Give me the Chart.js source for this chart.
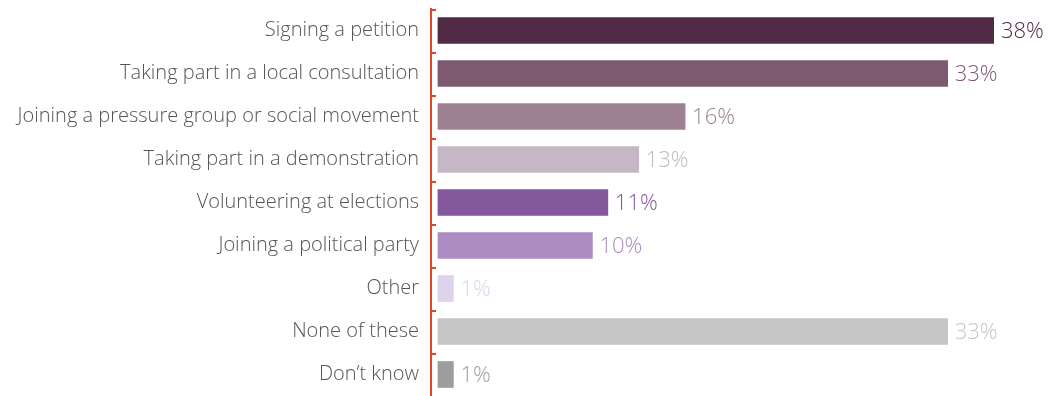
<!DOCTYPE html>
<html>
<head>
<meta charset="utf-8">
<script src="https://cdn.jsdelivr.net/npm/chart.js@4/dist/chart.umd.min.js"></script>
<style>
  html, body { margin: 0; padding: 0; background: #fff; }
  #wrap { width: 1048px; height: 396px; }
</style>
</head>
<body>
<div id="wrap"><canvas id="barChart"></canvas></div>
<script>
var categories = [
  "Signing a petition",
  "Taking part in a local consultation",
  "Joining a pressure group or social movement",
  "Taking part in a demonstration",
  "Volunteering at elections",
  "Joining a political party",
  "Other",
  "None of these",
  "Don\u2019t know"
];
var values = [38, 33, 16, 13, 11, 10, 1, 33, 1];
var barColors = [
  "#512a46", "#7e5a70", "#9e8293", "#c5b7c6", "#84589c",
  "#ac8cc1", "#ddd3ea", "#c6c6c6", "#9d9d9c"
];
var axisColor = "#e0482a";

// value labels drawn next to each bar, in the bar colour
var valueLabels = {
  id: "valueLabels",
  afterDatasetsDraw: function (chart) {
    var ctx = chart.ctx;
    var meta = chart.getDatasetMeta(0);
    var area = chart.chartArea;
    ctx.save();
    ctx.font = "300 22px 'Open Sans'";
    ctx.textBaseline = "middle";
    ctx.textAlign = "left";
    meta.data.forEach(function (bar, i) {
      ctx.fillStyle = barColors[i];
      var x = Math.min(bar.x, area.right) + 7;
      ctx.fillText(values[i] + "%", x, bar.y + 1);
    });
    ctx.restore();
  }
};

// small tick marks on the inner side of the y axis, at category boundaries
var innerTicks = {
  id: "innerTicks",
  afterDraw: function (chart) {
    var y = chart.scales.y;
    var ctx = chart.ctx;
    var step = (y.bottom - y.top) / categories.length;
    ctx.save();
    ctx.strokeStyle = axisColor;
    ctx.lineWidth = 2;
    for (var i = 0; i < categories.length; i++) {
      var py = Math.round(y.top + i * step) + 1;
      ctx.beginPath();
      ctx.moveTo(y.right, py);
      ctx.lineTo(y.right + 5, py);
      ctx.stroke();
    }
    ctx.restore();
  }
};

var ctx = document.getElementById("barChart").getContext("2d");

var MyChart = new Chart(ctx, {
  type: "bar",
  data: {
    labels: categories,
    datasets: [
      {
        data: values,
        backgroundColor: barColors,
        barThickness: 26,
        clip: 0,
      },
    ],
  },
  options: {
    indexAxis: "y",
    responsive: true,
    maintainAspectRatio: false,
    animation: false,
    layout: { padding: { top: 9, right: 54, bottom: 0, left: 0 } },
    plugins: {
      legend: { display: false },
      tooltip: { enabled: false },
    },
    scales: {
      x: {
        display: false,
        min: -0.45,
        max: 36,
      },
      y: {
        grid: { display: false, drawTicks: false },
        border: { display: true, color: axisColor, width: 2 },
        ticks: {
          color: "#555555",
          font: { family: "'Open Sans'", size: 20, weight: "300" },
          padding: 12,
        },
        afterFit: function (scale) {
          scale.width = 431;
          scale.paddingTop = 0;
          scale.paddingBottom = 0;
        },
      },
    },
  },
  plugins: [valueLabels, innerTicks],
});
</script>
</body>
</html>
